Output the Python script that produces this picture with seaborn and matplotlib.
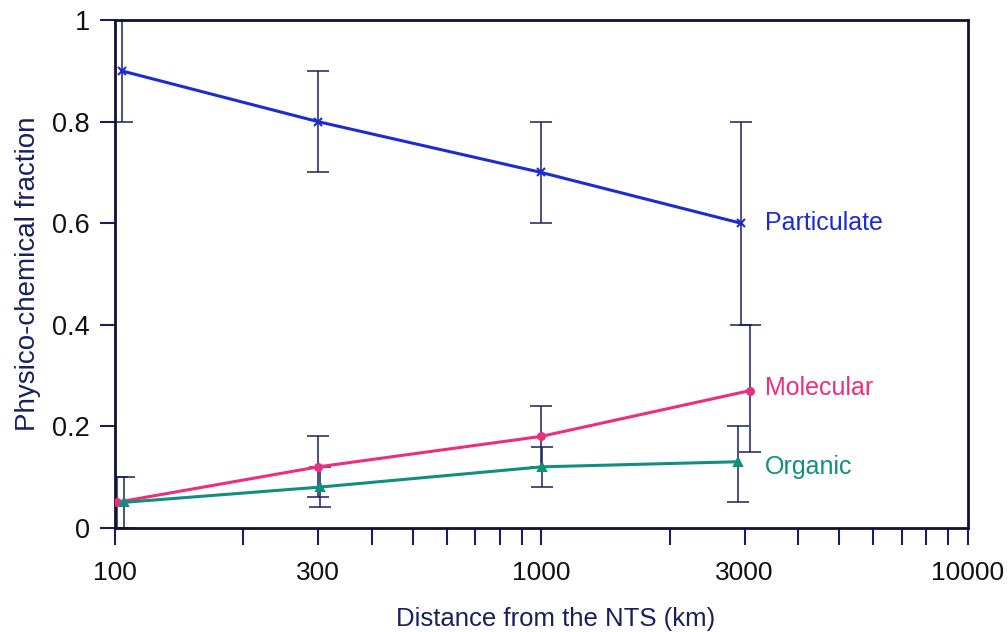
import numpy as np
import pandas as pd
import matplotlib
matplotlib.use("Agg")
import matplotlib.pyplot as plt
import seaborn as sns
from matplotlib.ticker import FixedLocator, NullFormatter

sns.set_theme(style="white")
plt.rcParams['font.family'] = ['Liberation Sans', 'DejaVu Sans']

# data
part_x = [104, 300, 1000, 2940]
part_y = [0.90, 0.80, 0.70, 0.60]
part_lo = [0.80, 0.70, 0.60, 0.40]
part_hi = [1.00, 0.90, 0.80, 0.80]

mol_x = [101, 300, 1000, 3080]
mol_y = [0.05, 0.12, 0.18, 0.27]
mol_lo = [0.00, 0.06, 0.12, 0.15]
mol_hi = [0.10, 0.18, 0.24, 0.40]

org_x = [105, 302, 1005, 2890]
org_y = [0.05, 0.08, 0.12, 0.13]
org_lo = [0.00, 0.04, 0.08, 0.05]
org_hi = [0.10, 0.12, 0.16, 0.20]

series = {
    'Particulate': (part_x, part_y, part_lo, part_hi, '#1c2bd2', 'x', 6),
    'Molecular': (mol_x, mol_y, mol_lo, mol_hi, '#ec2f7c', 'o', 5),
    'Organic': (org_x, org_y, org_lo, org_hi, '#10907c', '^', 6),
}

navy = '#1b1f5e'

fig, ax = plt.subplots(figsize=(10.08, 6.32), dpi=100)
fig.subplots_adjust(left=0.114, right=0.960, top=0.968, bottom=0.165)

for name, (x, y, lo, hi, col, mk, ms) in series.items():
    x = np.array(x); y = np.array(y)
    err = [y - np.array(lo), np.array(hi) - y]
    ax.errorbar(x, y, yerr=err, fmt='none', ecolor=navy, elinewidth=1.1,
                capsize=8, capthick=1.1, zorder=2)
    df = pd.DataFrame({'x': x, 'y': y})
    sns.lineplot(data=df, x='x', y='y', ax=ax, color=col, marker=mk,
                 markersize=ms, markeredgecolor=col, markeredgewidth=1.5,
                 linewidth=2.2, zorder=3)

ax.text(3350, 0.60, 'Particulate', color='#1c2bd2', fontsize=18, va='center')
ax.text(3350, 0.275, 'Molecular', color='#ec2f7c', fontsize=18, va='center')
ax.text(3350, 0.12, 'Organic', color='#10907c', fontsize=18, va='center')

ax.set_xscale('log')
ax.set_xlim(100, 10000)
ax.set_ylim(0, 1)

major = [100, 300, 1000, 3000, 10000]
minor = [200, 400, 500, 600, 700, 800, 900, 2000, 4000, 5000, 6000, 7000, 8000, 9000]
ax.xaxis.set_major_locator(FixedLocator(major))
ax.set_xticklabels([str(v) for v in major])
ax.xaxis.set_minor_locator(FixedLocator(minor))
ax.xaxis.set_minor_formatter(NullFormatter())
ax.set_yticks([0, 0.2, 0.4, 0.6, 0.8, 1.0])
ax.set_yticklabels(['0', '0.2', '0.4', '0.6', '0.8', '1'])

ax.tick_params(axis='x', which='both', direction='out', length=12, width=1.5,
               color=navy, bottom=True, labelsize=19, pad=12, labelcolor='#111111')
ax.tick_params(axis='y', direction='out', length=11, width=1.5, color=navy,
               left=True, labelsize=19.5, pad=7, labelcolor='#111111')

for s in ax.spines.values():
    s.set_color('#111133')
    s.set_linewidth(2)

ax.set_xlabel('Distance from the NTS (km)', fontsize=18.5, color=navy, labelpad=16)
ax.xaxis.label.set_x(0.517)
ax.set_ylabel('Physico-chemical fraction', fontsize=20, color=navy, labelpad=8)
ax.grid(False)

fig.savefig('out.png', dpi=100)
